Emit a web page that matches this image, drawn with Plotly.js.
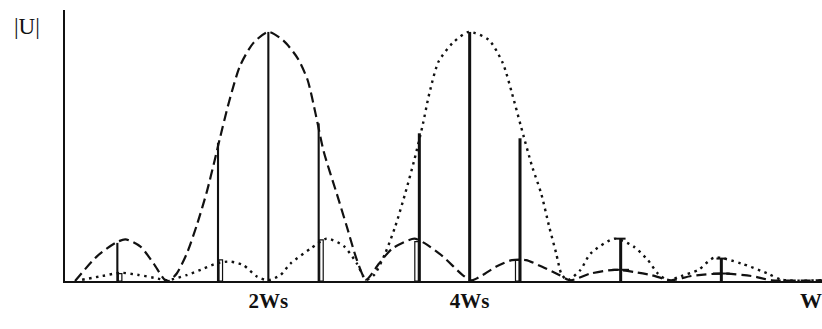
<!DOCTYPE html>
<html>
<head>
<meta charset="utf-8">
<script src="https://cdn.plot.ly/plotly-3.0.1.min.js"></script>
<style>html,body{margin:0;padding:0;background:#fff;}#chart{width:822px;height:329px;}</style>
</head>
<body>
<div id="chart"></div>
<script>
// Dashed envelope (spectrum centred at 2Ws)
const dashedW = [0.08,0.3,0.48,0.58,0.73,0.86,0.97,1.01,1.09,1.19,1.29,1.39,1.47,1.52,1.61,1.72,1.85,2.0,2.15,2.29,2.39,2.47,2.55,2.68,2.78,2.88,2.97,3.10,3.23,3.45,3.56,3.73,3.93,4.02,4.13,4.26,4.42,4.56,4.72,4.89,5.0,5.2,5.44,5.65,5.8,6.0,6.2,6.5,6.8,7.0,7.5];
const dashedU = [0.0,0.10,0.153,0.167,0.138,0.07,0.005,0.0,0.03,0.11,0.225,0.36,0.49,0.575,0.72,0.865,0.955,1.0,0.965,0.895,0.807,0.67,0.52,0.35,0.218,0.084,0.005,0.07,0.13,0.17,0.15,0.10,0.024,0.003,0.024,0.057,0.084,0.084,0.057,0.024,0.003,0.03,0.045,0.035,0.024,0.003,0.02,0.03,0.02,0.003,0.003];
// Dotted envelope (spectrum centred at 4Ws)
const dottedW = [0.15,0.35,0.53,0.7,0.9,1.0,1.19,1.36,1.49,1.62,1.75,1.89,2.0,2.12,2.22,2.42,2.58,2.75,2.88,2.97,3.05,3.16,3.26,3.36,3.45,3.53,3.60,3.69,3.83,3.99,4.19,4.33,4.42,4.51,4.62,4.71,4.79,4.86,4.91,4.97,5.1,5.2,5.44,5.63,5.77,5.87,5.97,6.1,6.27,6.43,6.7,6.96,7.1,7.5];
const dottedU = [0.005,0.02,0.033,0.025,0.01,0.003,0.024,0.05,0.071,0.078,0.064,0.017,0.003,0.024,0.07,0.13,0.17,0.14,0.07,0.005,0.024,0.11,0.218,0.352,0.486,0.62,0.754,0.88,0.955,1.0,0.968,0.874,0.754,0.62,0.46,0.352,0.218,0.11,0.03,0.003,0.044,0.11,0.17,0.138,0.084,0.03,0.003,0.02,0.044,0.094,0.07,0.03,0.005,0.003];
// Sampled values (vertical bars)
const sampleW = [0.5,1.5,2,2.5,3.5,4,4.5,5.5,6.5];
const dashedSamples = [0.153,0.555,1.0,0.633,0.158,0,0.084,0.045,0.03];
const dottedSamples = [0.03,0.085,0,0.165,0.593,1.0,0.573,0.17,0.09];
// Axis labels
const tickPos = [2,4];
const tickText = ['2Ws','4Ws'];

const major = sampleW.map((w,i)=>Math.max(dashedSamples[i],dottedSamples[i]));
const minor = sampleW.map((w,i)=>Math.min(dashedSamples[i],dottedSamples[i]));
const majorIsDashed = sampleW.map((w,i)=>dashedSamples[i]>=dottedSamples[i]);

const hollowIdx = [], crossIdx = [];
sampleW.forEach((w,i)=>{ if(minor[i]>0){ if(w<5) hollowIdx.push(i); else crossIdx.push(i);} });

const serif = 'Liberation Serif, DejaVu Serif, serif';
const traces = [
  {type:'scatter',mode:'lines',x:dashedW,y:dashedU,line:{color:'#111',width:2.2,dash:'10px,5px',shape:'spline',smoothing:0.7},hoverinfo:'skip'},
  {type:'scatter',mode:'lines',x:dottedW,y:dottedU,line:{color:'#111',width:2.4,dash:'2.5px,4.5px',shape:'spline',smoothing:0.7},hoverinfo:'skip'},
  {type:'bar',x:sampleW,y:major,width:sampleW.map((w,i)=>majorIsDashed[i]?0.021:0.03),
   marker:{color:'#111',line:{width:0}},hoverinfo:'skip'},
  {type:'bar',x:hollowIdx.map(i=>sampleW[i]),y:hollowIdx.map(i=>minor[i]),width:0.035,
   offset:hollowIdx.map(i=>majorIsDashed[i]?0.01:-0.045),
   marker:{color:'#fff',line:{color:'#111',width:1.2}},hoverinfo:'skip'},
  {type:'scatter',mode:'markers',x:crossIdx.map(i=>sampleW[i]),y:crossIdx.map(i=>minor[i]),
   marker:{symbol:'line-ew',size:12,line:{color:'#111',width:2}},hoverinfo:'skip'},
  {type:'scatter',mode:'markers',x:crossIdx.map(i=>sampleW[i]),y:crossIdx.map(i=>major[i]),
   marker:{symbol:'line-ew',size:7,line:{color:'#111',width:2}},hoverinfo:'skip'}
];

const layout = {
  width:822,height:329,
  margin:{l:65,r:0,t:10,b:48},
  paper_bgcolor:'#fff',plot_bgcolor:'#fff',
  showlegend:false,barmode:'overlay',
  xaxis:{range:[-0.02,7.5],showgrid:false,zeroline:false,showline:true,linecolor:'#111',linewidth:2,
         ticks:'',tickvals:tickPos,ticktext:tickText,ticklabelstandoff:0,
         tickfont:{family:serif,size:21,color:'#111',weight:'bold'}},
  yaxis:{range:[0,1.088],showgrid:false,zeroline:false,showline:true,linecolor:'#111',linewidth:2,
         ticks:'',showticklabels:false},
  annotations:[
    {text:'|U|',xref:'paper',yref:'paper',x:-0.05,y:0.94,xanchor:'center',yanchor:'middle',showarrow:false,
     font:{family:serif,size:23,color:'#111'}},
    {text:'W',xref:'paper',yref:'paper',x:0.985,y:-0.02,xanchor:'center',yanchor:'top',showarrow:false,
     font:{family:serif,size:22,color:'#111',weight:'bold'}}
  ]
};
Plotly.newPlot('chart',traces,layout,{displayModeBar:false,staticPlot:true});
</script>
</body>
</html>
